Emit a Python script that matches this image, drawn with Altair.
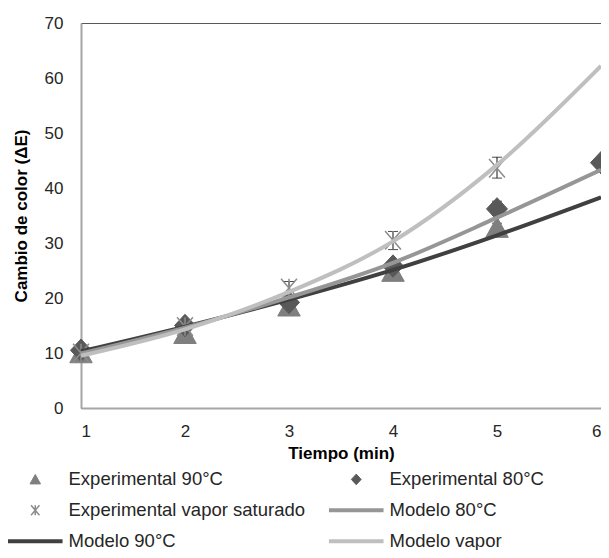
import altair as alt
import pandas as pd

# ---------------- data ----------------
series = ["Experimental 90°C", "Experimental 80°C", "Experimental vapor saturado",
          "Modelo 80°C", "Modelo 90°C", "Modelo vapor"]

tiempo = [1, 2, 3, 4, 5, 6]

exp90_t = [1, 2, 3, 4, 5]
exp90 = [10.0, 13.5, 18.5, 24.8, 32.8]
exp90_lo = [9.5, 13.0, 17.5, 24.0, 32.0]
exp90_hi = [10.5, 14.0, 19.5, 25.5, 33.6]

exp80_t = [1, 2, 3, 4, 5, 6]
exp80 = [10.5, 15.0, 19.2, 25.8, 36.2, 44.6]
exp80_lo = [10.0, 14.5, 18.5, 25.2, 35.0, 44.0]
exp80_hi = [11.0, 15.5, 20.0, 26.5, 37.6, 45.2]

vapor_t = [1, 2, 3, 4, 5]
vapor = [10.0, 14.8, 21.8, 30.5, 43.6]
vapor_lo = [9.3, 14.0, 20.5, 28.8, 41.8]
vapor_hi = [10.7, 15.6, 23.0, 32.1, 45.6]

mod90 = [10.3, 14.8, 19.7, 25.1, 31.4, 38.3]
mod80 = [9.9, 14.6, 20.1, 26.4, 34.6, 43.3]
modvap = [9.5, 14.3, 21.1, 30.3, 44.2, 62.2]

colors = ["#7f7f7f", "#595959", "#8c8c8c", "#969696", "#404040", "#bfbfbf"]
tri = "M0,-0.7L0.75,0.65L-0.75,0.65Z"
dia = "M0,-0.75L0.7,0L0,0.75L-0.7,0Z"
ast = "M-0.6,-0.7L0.6,0.7M-0.6,0.7L0.6,-0.7M0,-0.7L0,0.7"
lin = "M-3.9,0H3.9"
shapes = [tri, dia, ast, lin, lin, lin]
widths = [1, 1, 1.5, 4, 4, 4]

# ---------------- frames ----------------
pts = pd.DataFrame({
    "serie": [series[0]] * len(exp90_t) + [series[1]] * len(exp80_t),
    "t": exp90_t + exp80_t,
    "v": exp90 + exp80,
})
vap = pd.DataFrame({"serie": [series[2]] * len(vapor_t), "t": vapor_t, "v": vapor})
err = pd.DataFrame({
    "t": exp90_t + exp80_t + vapor_t,
    "lo": exp90_lo + exp80_lo + vapor_lo,
    "hi": exp90_hi + exp80_hi + vapor_hi,
})
mods = pd.DataFrame({
    "serie": [series[4]] * 6 + [series[3]] * 6 + [series[5]] * 6,
    "t": tiempo * 3,
    "v": mod90 + mod80 + modvap,
})

FONT = "Liberation Sans"
leg = alt.Legend(
    orient="none", legendX=-55, legendY=447, columns=2, direction="horizontal", title=None,
    labelFont=FONT, labelFontSize=18.5, labelColor="#262626", symbolSize=196, labelLimit=400,
    labelOffset=24, rowPadding=12, columnPadding=14, symbolOpacity=1,
)

x_enc = alt.X("t:Q", scale=alt.Scale(domain=[1, 6], nice=False, zero=False),
              axis=alt.Axis(values=tiempo, title="Tiempo (min)", format="d"))
y_enc = alt.Y("v:Q", scale=alt.Scale(domain=[0, 70], nice=False),
              axis=alt.Axis(values=[0, 10, 20, 30, 40, 50, 60, 70],
                            title="Cambio de color (ΔE)"))

fill_enc = alt.Fill("serie:N", scale=alt.Scale(domain=series, range=colors), legend=leg)
stroke_enc = alt.Stroke("serie:N", scale=alt.Scale(domain=series, range=colors), legend=leg)
shape_enc = alt.Shape("serie:N", scale=alt.Scale(domain=series, range=shapes), legend=leg)
sw_enc = alt.StrokeWidth("serie:N", scale=alt.Scale(type="ordinal", domain=series, range=widths), legend=leg)

points = alt.Chart(pts).mark_point(filled=True, size=900, opacity=1).encode(
    x=x_enc, y=y_enc, fill=fill_enc, stroke=stroke_enc, shape=shape_enc, strokeWidth=sw_enc)
vpoints = alt.Chart(vap).mark_point(filled=False, size=700, opacity=1).encode(
    x=x_enc, y=y_enc, fill=fill_enc, stroke=stroke_enc, shape=shape_enc, strokeWidth=sw_enc)
lines = alt.Chart(mods).mark_line(interpolate="monotone").encode(
    x=x_enc, y=y_enc, stroke=stroke_enc, strokeWidth=sw_enc, detail="serie:N")
rules = alt.Chart(err).mark_rule(color="#000000", strokeWidth=1).encode(
    x="t:Q", y="lo:Q", y2="hi:Q")
caps_lo = alt.Chart(err).mark_tick(color="#000000", orient="horizontal", size=10, thickness=1).encode(
    x="t:Q", y="lo:Q")
caps_hi = alt.Chart(err).mark_tick(color="#000000", orient="horizontal", size=10, thickness=1).encode(
    x="t:Q", y="hi:Q")

chart = alt.layer(rules, caps_lo, caps_hi, points, vpoints, lines).properties(
    width=520, height=385,
    autosize=alt.AutoSizeParams(type="none"),
    padding={"left": 73, "top": 15, "right": 0, "bottom": 142},
).configure_view(
    stroke="#595959", strokeWidth=1
).configure_axis(
    grid=False, ticks=False, domainColor="#a6a6a6", domainWidth=2,
    labelFont=FONT, labelFontSize=17, labelColor="#262626",
    titleFont=FONT, titleFontSize=17, titleFontWeight="bold", titleColor="#000000",
).configure_axisX(
    labelPadding=15, titlePadding=6,
).configure_axisY(
    labelPadding=18, titlePadding=14,
)

chart.save("out.html", embed_options={"renderer": "svg", "actions": False})
